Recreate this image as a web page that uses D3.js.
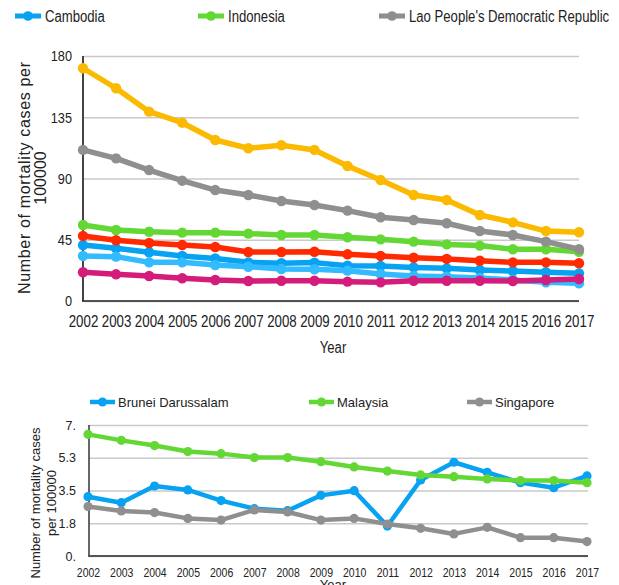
<!DOCTYPE html>
<html><head><meta charset="utf-8">
<script src="https://cdn.jsdelivr.net/npm/d3@7/dist/d3.min.js"></script>
<style>
html,body{margin:0;padding:0;background:#fff;}
svg{display:block;}
</style></head>
<body>
<svg id="chart" width="619" height="585"></svg>
<script>
// ---------- DATA ----------
const years = ["2002","2003","2004","2005","2006","2007","2008","2009","2010","2011","2012","2013","2014","2015","2016","2017"];

// Top panel
const topNames = ["Cambodia","Indonesia","Lao People's Democratic Republic","Myanmar","Philippines","Thailand","Viet Nam"];
const cambodia  = [41.1,38.7,35.8,33.1,31.3,28.4,27.7,28.2,25.9,25.7,24.7,24.0,22.8,22.0,21.1,20.3];
const indonesia = [55.8,52.2,50.9,50.2,50.2,49.5,48.5,48.5,46.8,45.3,43.6,41.6,40.7,38.0,38.0,36.2];
const lao       = [111.0,104.8,96.2,88.4,81.5,77.9,73.5,70.5,66.4,61.5,59.5,57.1,51.4,48.5,43.6,38.0];
const myanmar   = [171.0,156.3,139.1,131.0,118.3,112.2,114.4,111.0,99.2,88.9,77.9,74.2,63.2,57.8,51.4,50.5];
const philippines=[47.8,44.6,42.6,41.1,39.7,36.0,36.0,36.2,34.3,33.1,31.8,30.9,29.6,28.4,28.4,27.7];
const thailand  = [33.1,32.6,28.4,28.4,26.4,25.2,23.5,23.3,22.3,19.8,18.4,17.9,16.9,15.4,13.7,13.0];
const vietnam   = [21.1,19.6,18.4,16.7,15.4,14.7,14.9,14.9,14.2,13.7,14.9,14.9,14.9,14.7,15.4,16.2];
const topSeries = [cambodia,indonesia,lao,myanmar,philippines,thailand,vietnam];
const topColors = ["#07a2f2","#63d834","#8f8f8f","#fbba00","#ff2a00","#33bbff","#d41c7b"];
const topLegendCount = 3;
const topTicks = [0,45,90,135,180];
const topTickLabels = ["0","45","90","135","180"];

// Bottom panel
const botNames = ["Brunei Darussalam","Malaysia","Singapore"];
const brunei    = [3.17,2.85,3.74,3.53,2.96,2.53,2.42,3.24,3.49,1.60,4.06,5.01,4.47,3.92,3.65,4.28];
const malaysia  = [6.50,6.18,5.90,5.58,5.47,5.26,5.26,5.04,4.76,4.54,4.33,4.24,4.12,4.03,4.03,3.92];
const singapore = [2.64,2.41,2.32,2.01,1.92,2.46,2.35,1.92,2.01,1.71,1.48,1.18,1.53,0.98,0.98,0.77];
const botSeries = [brunei,malaysia,singapore];
const botColors = ["#07a2f2","#63d834","#8f8f8f"];
const botTicks = [0,1.75,3.5,5.25,7];
const botTickLabels = ["0.","1.8","3.5","5.3","7."];

// ---------- FONT HANDLING ----------
function hasFont(name){
  const c=document.createElement('canvas').getContext('2d');
  const s='abcdefghijABCDEF0123456789';
  c.font='40px monospace'; const a=c.measureText(s).width;
  c.font="40px '"+name+"', monospace"; const b=c.measureText(s).width;
  return Math.abs(a-b)>0.5;
}
const NARROW_OK = hasFont('Liberation Sans Narrow');
const REG = "'Liberation Sans', Arial, sans-serif";
function narrow(sel, size, factor){
  sel.style('font-size', size+'px');
  if (NARROW_OK){
    sel.style('font-family', "'Liberation Sans Narrow', 'Liberation Sans', sans-serif");
  } else {
    sel.style('font-family', REG);
    sel.each(function(){
      const L=this.getComputedTextLength();
      d3.select(this).attr('textLength', L*(factor||0.82)).attr('lengthAdjust','spacingAndGlyphs');
    });
  }
}

const svg = d3.select('#chart');
const ink = '#222';

// ---------- TOP PANEL ----------
(function(){
  const x = d3.scalePoint().domain(years).range([83,579]);
  const y = d3.scaleLinear().domain([0,180]).range([301,56]);

  const gy = svg.append('g').attr('transform','translate(83,0)')
    .call(d3.axisLeft(y).tickValues(topTicks).tickFormat((d,i)=>topTickLabels[i])
      .tickSize(-(579-83)).tickPadding(11));
  gy.select('.domain').remove();
  gy.selectAll('line').attr('stroke','#c9c9c9').attr('stroke-width',1.5);
  gy.selectAll('text').attr('fill',ink);
  narrow(gy.selectAll('text'), 15.5, 0.82);

  svg.append('line').attr('x1',83).attr('x2',83).attr('y1',56).attr('y2',301).attr('stroke','#444').attr('stroke-width',2);
  svg.append('line').attr('x1',82).attr('x2',579).attr('y1',301).attr('y2',301).attr('stroke','#222').attr('stroke-width',1.5);

  const gx = svg.append('g').attr('transform','translate(0,301)')
    .call(d3.axisBottom(x).tickSize(0).tickPadding(14));
  gx.select('.domain').remove();
  gx.selectAll('text').attr('fill',ink).attr('dy','0.71em');
  narrow(gx.selectAll('text'), 16.2, 0.82);

  const line = d3.line().x((d,i)=>x(years[i])).y(d=>y(d));
  topSeries.forEach((s,k)=>{
    const g = svg.append('g');
    g.append('path').datum(s).attr('d',line).attr('fill','none')
      .attr('stroke',topColors[k]).attr('stroke-width',5.5).attr('stroke-linejoin','round');
    g.selectAll('circle').data(s).join('circle')
      .attr('cx',(d,i)=>x(years[i])).attr('cy',d=>y(d)).attr('r',5.2).attr('fill',topColors[k]);
  });

  svg.append('text').attr('transform','translate(24,178) rotate(-90)')
    .attr('text-anchor','middle').attr('dy','0.35em').attr('fill',ink)
    .style('font-family',REG).style('font-size','16px')
    .attr('textLength',232).attr('lengthAdjust','spacing')
    .text('Number of mortality cases per');
  svg.append('text').attr('transform','translate(40,178) rotate(-90)')
    .attr('text-anchor','middle').attr('dy','0.35em').attr('fill',ink)
    .style('font-family',REG).style('font-size','16px').text('100000');

  const xt = svg.append('text').attr('x',333).attr('y',353).attr('text-anchor','middle').attr('fill',ink).text('Year');
  narrow(xt,16,0.82);

  const legX = [15,198,379];
  topNames.slice(0,topLegendCount).forEach((n,k)=>{
    const g = svg.append('g').attr('transform','translate('+legX[k]+',16)');
    g.append('line').attr('x1',0).attr('x2',26).attr('y1',0).attr('y2',0).attr('stroke',topColors[k]).attr('stroke-width',5);
    g.append('circle').attr('cx',13).attr('cy',0).attr('r',4.8).attr('fill',topColors[k]);
    const tx = g.append('text').attr('x',30).attr('y',0).attr('dy','0.36em').attr('fill',ink).text(n);
    narrow(tx,16,0.82);
  });
})();

// ---------- BOTTOM PANEL ----------
(function(){
  const x = d3.scalePoint().domain(years).range([88,587]);
  const y = d3.scaleLinear().domain([0,7]).range([556,425]);

  const gy = svg.append('g').attr('transform','translate(89,0)')
    .call(d3.axisLeft(y).tickValues(botTicks).tickFormat((d,i)=>botTickLabels[i])
      .tickSize(-(588-89)).tickPadding(13));
  gy.select('.domain').remove();
  gy.selectAll('line').attr('stroke','#c9c9c9').attr('stroke-width',1.5);
  gy.selectAll('text').attr('fill',ink).style('font-family',REG).style('font-size','12.5px');

  svg.append('line').attr('x1',89).attr('x2',89).attr('y1',425).attr('y2',556).attr('stroke','#333').attr('stroke-width',1.5);
  svg.append('line').attr('x1',88).attr('x2',588).attr('y1',556).attr('y2',556).attr('stroke','#555').attr('stroke-width',2);

  const gx = svg.append('g').attr('transform','translate(0,556)')
    .call(d3.axisBottom(x).tickSize(0).tickPadding(12));
  gx.select('.domain').remove();
  gx.selectAll('text').attr('fill',ink).attr('dy','0.71em');
  narrow(gx.selectAll('text'), 12.2, 0.86);

  const line = d3.line().x((d,i)=>x(years[i])).y(d=>y(d));
  botSeries.forEach((s,k)=>{
    const g = svg.append('g');
    g.append('path').datum(s).attr('d',line).attr('fill','none')
      .attr('stroke',botColors[k]).attr('stroke-width',4.5).attr('stroke-linejoin','round');
    g.selectAll('circle').data(s).join('circle')
      .attr('cx',(d,i)=>x(years[i])).attr('cy',d=>y(d)).attr('r',4.6).attr('fill',botColors[k]);
  });

  svg.append('text').attr('transform','translate(35,503) rotate(-90)')
    .attr('text-anchor','middle').attr('dy','0.35em').attr('fill',ink)
    .style('font-family',REG).style('font-size','13px').text('Number of mortality cases');
  svg.append('text').attr('transform','translate(51,503) rotate(-90)')
    .attr('text-anchor','middle').attr('dy','0.35em').attr('fill',ink)
    .style('font-family',REG).style('font-size','13px').text('per 100000');

  svg.append('text').attr('x',333).attr('y',589).attr('text-anchor','middle').attr('fill',ink)
    .style('font-family',REG).style('font-size','13px').text('Year');

  const legX = [90,309,467];
  botNames.forEach((n,k)=>{
    const g = svg.append('g').attr('transform','translate('+legX[k]+',402)');
    g.append('line').attr('x1',0).attr('x2',25).attr('y1',0).attr('y2',0).attr('stroke',botColors[k]).attr('stroke-width',4.5);
    g.append('circle').attr('cx',12.5).attr('cy',0).attr('r',4.5).attr('fill',botColors[k]);
    g.append('text').attr('x',28).attr('y',0).attr('dy','0.36em').attr('fill',ink)
      .style('font-family',REG).style('font-size','13px').text(n);
  });
})();
</script>
</body></html>
